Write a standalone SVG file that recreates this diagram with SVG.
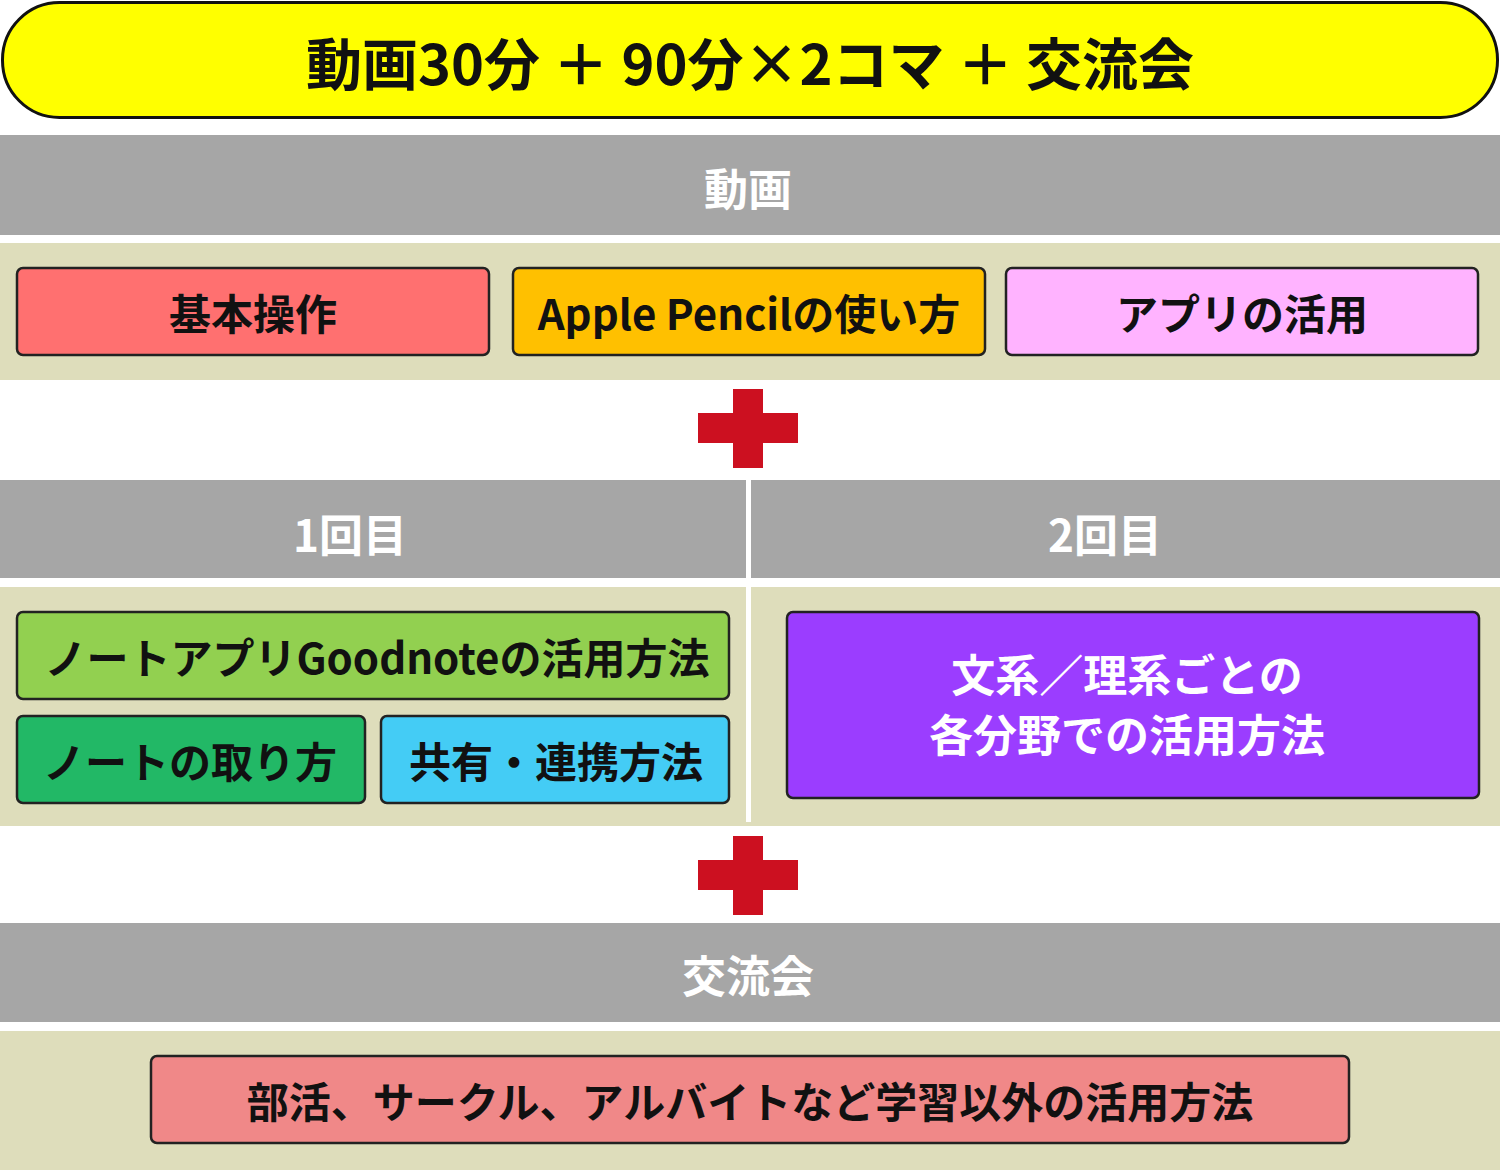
<svg xmlns="http://www.w3.org/2000/svg" width="1500" height="1170" viewBox="0 0 1500 1170">
<style>
text{font-family:"Noto Sans CJK JP","Noto Sans",sans-serif;font-weight:700;text-anchor:middle;dominant-baseline:central}
.band{fill:#A6A6A6}
.bg{fill:#DEDDBB}
.box{stroke:#222;stroke-width:2.5}
.wt{fill:#fff;font-size:44px}
.bt{fill:#111;font-size:42px}
.plus{fill:#CC1020}
</style>
<rect width="1500" height="1170" fill="#fff"/>
<g id="header"><rect x="2.5" y="2.5" width="1495" height="115" rx="57" fill="#FFFF00" stroke="#111" stroke-width="3"/>
<text x="750" y="60" font-size="56" fill="#111">動画30分 ＋ 90分×2コマ ＋ 交流会</text></g>
<g id="band-video"><rect class="band" x="0" y="135" width="1500" height="100"/><text class="wt" x="748" y="187">動画</text></g>
<rect class="bg" x="0" y="243" width="1500" height="137"/>
<g id="n1"><rect class="box" x="17" y="268" width="472" height="87" rx="6" fill="#FF7070"/><text class="bt" x="253" y="311">基本操作</text></g>
<g id="n2"><rect class="box" x="513" y="268" width="472" height="87" rx="6" fill="#FFC000"/><text class="bt" x="749" y="311">Apple Pencilの使い方</text></g>
<g id="n3"><rect class="box" x="1006" y="268" width="472" height="87" rx="6" fill="#FFB3FF"/><text class="bt" x="1242" y="311">アプリの活用</text></g>
<g id="connectors">
<g id="plus1"><rect class="plus" x="698" y="413" width="100" height="30"/><rect class="plus" x="733" y="389" width="30" height="79"/></g>
<g id="plus2"><rect class="plus" x="698" y="860" width="100" height="30"/><rect class="plus" x="733" y="836" width="30" height="79"/></g>
</g>
<g id="band-sessions"><rect class="band" x="0" y="480" width="1500" height="98"/><rect x="746" y="480" width="5" height="98" fill="#fff"/>
<text class="wt" x="350" y="533">1回目</text><text class="wt" x="1105" y="533">2回目</text></g>
<rect class="bg" x="0" y="587" width="1500" height="239"/>
<rect x="746" y="587" width="5" height="235" fill="#fff"/>
<g id="n4"><rect class="box" x="17" y="612" width="712" height="87" rx="6" fill="#92D050"/><text class="bt" x="377" y="655">ノートアプリGoodnoteの活用方法</text></g>
<g id="n5"><rect class="box" x="17" y="716" width="348" height="87" rx="6" fill="#22B866"/><text class="bt" x="190" y="759">ノートの取り方</text></g>
<g id="n6"><rect class="box" x="381" y="716" width="348" height="87" rx="6" fill="#44CCF5"/><text class="bt" x="556" y="759">共有・連携方法</text></g>
<g id="n7"><rect class="box" x="787" y="612" width="692" height="186" rx="6" fill="#9B3DFF"/>
<text class="wt" x="1127" y="673">文系／理系ごとの</text><text class="wt" x="1127" y="733">各分野での活用方法</text></g>
<g id="band-exchange"><rect class="band" x="0" y="923" width="1500" height="99"/><text class="wt" x="748" y="974">交流会</text></g>
<rect class="bg" x="0" y="1031" width="1500" height="139"/>
<g id="n8"><rect class="box" x="151" y="1056" width="1198" height="87" rx="6" fill="#F08888"/><text class="bt" x="750" y="1099">部活、サークル、アルバイトなど学習以外の活用方法</text></g>
</svg>
